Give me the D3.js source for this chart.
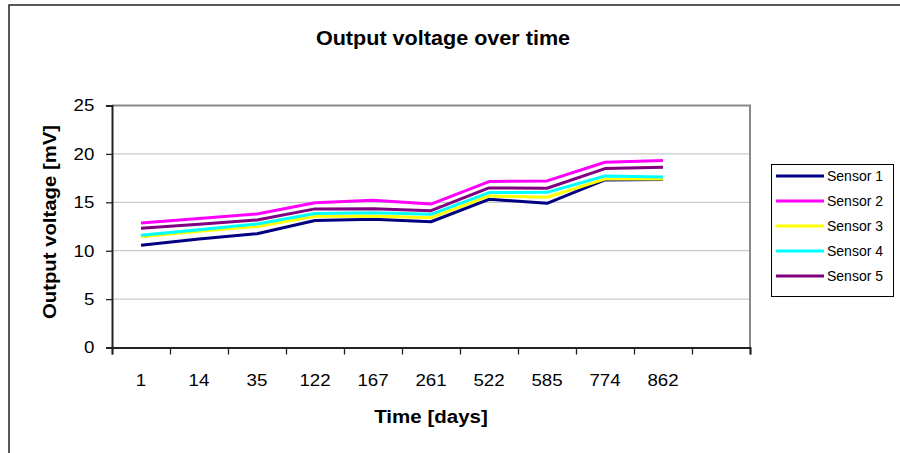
<!DOCTYPE html>
<html>
<head>
<meta charset="utf-8">
<script src="https://cdn.jsdelivr.net/npm/d3@7"></script>
<style>
  body { margin: 0; background: #fff; }
  svg { display: block; font-family: "Liberation Sans", Arial, sans-serif; }
</style>
</head>
<body>
<svg id="chart" width="900" height="453"></svg>
<script>
// data
const days = ['1', '14', '35', '122', '167', '261', '522', '585', '774', '862']
const sensorNames = ['Sensor 1', 'Sensor 2', 'Sensor 3', 'Sensor 4', 'Sensor 5']
const sensor1 = [10.56, 11.2, 11.76, 13.12, 13.24, 12.99, 15.31, 14.9, 17.31, 17.36]
const sensor2 = [12.87, 13.33, 13.8, 14.95, 15.2, 14.82, 17.14, 17.21, 19.14, 19.31]
const sensor3 = [11.45, 12.0, 12.5, 13.55, 13.58, 13.41, 15.66, 15.52, 17.41, 17.41]
const sensor4 = [11.59, 12.17, 12.76, 13.85, 13.93, 13.76, 16.0, 16.03, 17.72, 17.62]
const sensor5 = [12.32, 12.73, 13.18, 14.32, 14.34, 14.13, 16.48, 16.45, 18.48, 18.62]
const sensorColors = ['#000080', '#ff00ff', '#ffff00', '#00ffff', '#800080']
const yTicks = [0, 5, 10, 15, 20, 25]

const series = [sensor1, sensor2, sensor3, sensor4, sensor5]

const plot = { left: 112, right: 750, top: 105.5, bottom: 347.5 }
const stretch = 'scale(1.1,1)' // reference text renders a bit wider than Arial

const svg = d3.select('#chart')

// outer chart border (only top and left edges are visible)
svg.append('rect')
  .attr('x', 9).attr('y', 5)
  .attr('width', 1000).attr('height', 1000)
  .attr('fill', '#fff')
  .attr('stroke', '#222')
  .attr('stroke-width', 1.5)

// one empty slot after the last day, like the source
const slots = [...days, ' ']

const x = d3.scaleBand()
  .domain(slots)
  .range([plot.left, plot.right])

const edge = d3.scaleLinear()
  .domain([0, slots.length])
  .range([plot.left, plot.right])

const y = d3.scaleLinear()
  .domain([0, 25])
  .range([plot.bottom, plot.top])

// gridlines
svg.append('g')
  .selectAll('line')
  .data(yTicks.filter(d => d > 0 && d < 25))
  .enter()
  .append('line')
  .attr('x1', plot.left).attr('x2', plot.right)
  .attr('y1', d => y(d)).attr('y2', d => y(d))
  .attr('stroke', '#c8c8c8')
  .attr('stroke-width', 1.3)

// plot area frame, top and right
svg.append('path')
  .attr('d', `M${plot.left},${plot.top}H${plot.right}V${plot.bottom}`)
  .attr('fill', 'none')
  .attr('stroke', '#888')
  .attr('stroke-width', 2)

// y axis
const yAxis = svg.append('g')
  .attr('transform', `translate(${plot.left},0)`)
  .call(d3.axisLeft(y).tickValues(yTicks).tickSize(6).tickPadding(0))
yAxis.select('.domain').attr('stroke', '#222').attr('stroke-width', 2)
yAxis.selectAll('.tick line').attr('stroke', '#222').attr('stroke-width', 1.3)
yAxis.selectAll('.tick text')
  .attr('x', -16)
  .attr('font-size', 17)
  .attr('font-family', '"Liberation Sans", Arial, sans-serif')
  .attr('fill', '#000')
  .attr('transform', stretch)

// x axis tick marks between categories
const xTickAxis = svg.append('g')
  .attr('transform', `translate(0,${plot.bottom})`)
  .call(d3.axisBottom(edge).tickValues(d3.range(0, slots.length + 1)).tickSize(7).tickFormat(''))
xTickAxis.select('.domain').attr('stroke', '#222').attr('stroke-width', 2)
xTickAxis.selectAll('.tick line').attr('stroke', '#222').attr('stroke-width', 1.3)

// x axis category labels
const xLabelAxis = svg.append('g')
  .attr('transform', `translate(0,${plot.bottom})`)
  .call(d3.axisBottom(x).tickSize(0))
xLabelAxis.select('.domain').remove()
xLabelAxis.selectAll('.tick text')
  .attr('y', 38.5)
  .attr('dy', 0)
  .attr('font-size', 17)
  .attr('font-family', '"Liberation Sans", Arial, sans-serif')
  .attr('fill', '#000')
  .attr('transform', stretch)

// sensor lines
const line = d3.line()
  .x((_, i) => x(days[i]) + x.bandwidth() / 2)
  .y(d => y(d))

svg.append('g')
  .selectAll('path')
  .data(series)
  .enter()
  .append('path')
  .attr('d', d => line(d))
  .attr('fill', 'none')
  .attr('stroke', (_, i) => sensorColors[i])
  .attr('stroke-width', 3)
  .attr('stroke-linejoin', 'round')

// titles
svg.append('text')
  .attr('transform', `translate(443,45) scale(1.08,1)`)
  .attr('text-anchor', 'middle')
  .attr('font-size', 20)
  .attr('font-weight', 'bold')
  .text('Output voltage over time')

svg.append('text')
  .attr('transform', `translate(${(plot.left + plot.right) / 2},423) scale(1.08,1)`)
  .attr('text-anchor', 'middle')
  .attr('font-size', 19)
  .attr('font-weight', 'bold')
  .text('Time [days]')

svg.append('text')
  .attr('transform', 'translate(56,222) rotate(-90) scale(1.07,1)')
  .attr('text-anchor', 'middle')
  .attr('font-size', 19)
  .attr('font-weight', 'bold')
  .text('Output voltage [mV]')

// legend
const legend = svg.append('g').attr('class', 'legend')
legend.append('rect')
  .attr('x', 771.5).attr('y', 164.5)
  .attr('width', 122).attr('height', 132)
  .attr('fill', '#fff')
  .attr('stroke', '#000')
  .attr('stroke-width', 1)

const entry = legend.selectAll('.entry')
  .data(sensorNames)
  .enter()
  .append('g')
  .attr('class', 'entry')
  .attr('transform', (_, i) => `translate(0,${176 + i * 25})`)

entry.append('line')
  .attr('x1', 776).attr('x2', 824)
  .attr('stroke', (_, i) => sensorColors[i])
  .attr('stroke-width', 3)

entry.append('text')
  .attr('x', 827)
  .attr('y', 5)
  .attr('font-size', 14)
  .text(d => d)
</script>
</body>
</html>
